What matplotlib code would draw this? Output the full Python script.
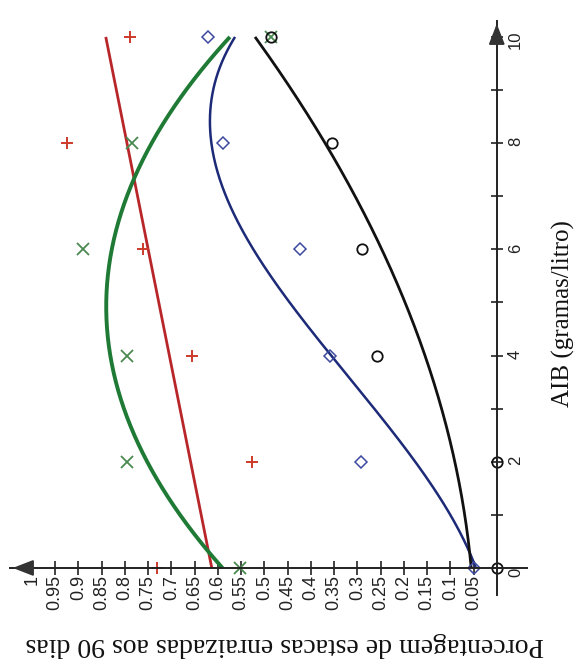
import matplotlib
matplotlib.use('Agg')
import matplotlib.pyplot as plt
import numpy as np

# ---- data ----
aib = [0, 2, 4, 6, 8, 10]
red_pts = [0.73, 0.527, 0.656, 0.761, 0.925, 0.789]
green_pts = [0.553, 0.796, 0.796, 0.89, 0.785, 0.486]
blue_pts = [0.05, 0.292, 0.359, 0.424, 0.589, 0.621]
black_pts = [0.0, 0.0, 0.258, 0.29, 0.355, 0.486]

# fitted curve coefficients (c0, c1, c2, c3 ...)
red_fit = [0.613, 0.0228]
green_fit = [0.59, 0.1016, -0.01032]
blue_fit = [0.045, 0.042, 0.01427, -0.001329]
black_fit = [0.055, 0.01043, 0.003607]

pct_ticks = [0.05, 0.1, 0.15, 0.2, 0.25, 0.3, 0.35, 0.4, 0.45, 0.5,
             0.55, 0.6, 0.65, 0.7, 0.75, 0.8, 0.85, 0.9, 0.95, 1.0]
pct_labels = ['0.05', '0.1', '0.15', '0.2', '0.25', '0.3', '0.35', '0.4', '0.45', '0.5',
              '0.55', '0.6', '0.65', '0.7', '0.75', '0.8', '0.85', '0.9', '0.95', '1']
aib_ticks = [0, 1, 2, 3, 4, 5, 6, 7, 8, 9, 10]
aib_labels = ['0', '', '2', '', '4', '', '6', '', '8', '', '10']

ylabel_text = 'Porcentagem de estacas enraizadas aos 90 dias'
xlabel_text = 'AIB (gramas/litro)'

W, H = 580, 666
fig = plt.figure(figsize=(W / 100, H / 100), dpi=100)
fig.patch.set_facecolor('white')

# axes placed so that the chart appears rotated 90 degrees counter-clockwise
x_left_px, x_right_px = 10, 527      # pct 1.047 ... -0.065
y_top_px, y_bot_px = 21, 594.5       # AIB 10.3 ... -0.5
ax = fig.add_axes([x_left_px / W, 1 - y_bot_px / H,
                   (x_right_px - x_left_px) / W, (y_bot_px - y_top_px) / H])
ax.set_xlim(1.047, -0.065)
ax.set_ylim(-0.5, 10.3)
ax.set_facecolor('none')

for s in ['top', 'left']:
    ax.spines[s].set_visible(False)
ax.spines['bottom'].set_position(('data', 0))
ax.spines['right'].set_position(('data', 0))
for s in ['bottom', 'right']:
    ax.spines[s].set_linewidth(1.4)
    ax.spines[s].set_color('#222222')

ax.xaxis.set_ticks_position('bottom')
ax.yaxis.set_ticks_position('right')
ax.set_xticks(pct_ticks)
ax.set_xticklabels(pct_labels, family='Liberation Sans')
ax.set_yticks(aib_ticks)
ax.set_yticklabels(aib_labels, family='Liberation Sans')
ax.tick_params(axis='x', direction='inout', length=10, width=1.2, pad=0,
               labelrotation=90, labelsize=13, colors='#222222')
ax.tick_params(axis='y', direction='inout', length=8, width=1.2, pad=4,
               labelrotation=90, labelsize=12, colors='#222222')
for lab in ax.get_yticklabels():
    if lab.get_text() == '0':
        lab.set_va('top')

# arrow heads
ax.annotate('', xy=(1.047, 0), xytext=(1.0, 0), xycoords='data',
            arrowprops=dict(arrowstyle='-|>,head_length=0.9,head_width=0.35',
                            color='#333333', lw=1.4, mutation_scale=14),
            annotation_clip=False)
ax.annotate('', xy=(0, 10.3), xytext=(0, 9.9), xycoords='data',
            arrowprops=dict(arrowstyle='-|>,head_length=0.9,head_width=0.35',
                            color='#333333', lw=1.4, mutation_scale=14),
            annotation_clip=False)

xs = np.linspace(0, 10, 300)
def curve(c):
    return np.polyval(c[::-1], xs)

ax.plot(curve(red_fit), xs, color='#b8262a', lw=2.0, solid_capstyle='butt')
ax.plot(curve(green_fit), xs, color='#1f7a35', lw=2.8, solid_capstyle='butt')
ax.plot(curve(blue_fit), xs, color='#1c2a78', lw=1.8, solid_capstyle='butt')
ax.plot(curve(black_fit), xs, color='#111111', lw=2.0, solid_capstyle='butt')

ax.plot(red_pts, aib, ls='none', marker='+', ms=9, mew=1.4, color='#cc3a2a', clip_on=False)
ax.plot(green_pts, aib, ls='none', marker='x', ms=8, mew=1.3, color='#4a8a50', clip_on=False)
ax.plot(blue_pts, aib, ls='none', marker='D', ms=6, mew=1.1, mfc='none',
        color='#3c4aa0', clip_on=False)
ax.plot(black_pts, aib, ls='none', marker='o', ms=7.5, mew=1.3, mfc='none',
        color='#111111', clip_on=False)

fig.text(285 / W, 1 - 645 / H, ylabel_text, rotation=180, ha='center', va='center',
         fontsize=20, family='Liberation Serif', color='#111111')
fig.text(563 / W, 1 - 314 / H, xlabel_text, rotation=90, ha='center', va='center',
         fontsize=18, family='Liberation Serif', color='#111111')

fig.savefig('out.png', dpi=100, facecolor='white')
